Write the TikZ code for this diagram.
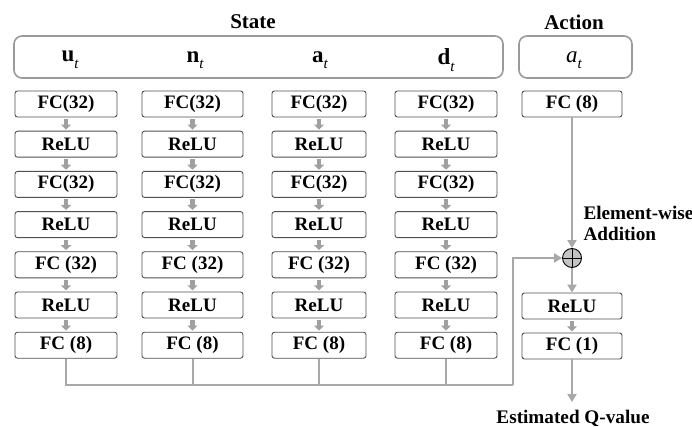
\documentclass[tikz,border=0pt]{standalone}
\usepackage{fontspec}
\setmainfont{Liberation Serif}
\usetikzlibrary{arrows.meta}
\definecolor{boxline}{HTML}{505050}
\definecolor{groupline}{HTML}{9A9A9A}
\definecolor{conn}{HTML}{A8A8A8}
\definecolor{flowgray}{HTML}{A0A0A0}
\definecolor{sumfill}{HTML}{C4C4C4}
% bold vector symbol with an italic subscript, set in text fonts
\newcommand{\vecsub}[1]{{\bfseries #1}\raisebox{-0.28em}{\fontsize{15}{15}\selectfont\itshape t}}
\newcommand{\scalsub}[1]{{\itshape #1}\raisebox{-0.28em}{\fontsize{15}{15}\selectfont\itshape t}}
\begin{document}
\begin{tikzpicture}[x=1pt,y=-1pt,
  layer/.style={draw=boxline, line width=0.9pt, rounded corners=2.5pt,
    minimum height=26pt, inner sep=0pt, fill=white,
    font=\bfseries\fontsize{19}{19}\selectfont},
  group/.style={draw=groupline, line width=1.6pt, rounded corners=8pt},
  heading/.style={font=\bfseries\fontsize{21}{21}\selectfont},
  inlabel/.style={font=\fontsize{23}{23}\selectfont},
  note/.style={font=\bfseries\fontsize{19.2}{21}\selectfont},
  flow/.style={draw=flowgray, line width=4.5pt,
    -{Triangle[length=5pt,width=10pt]}, shorten <=1.5pt, shorten >=1.2pt},
  link/.style={draw=conn, line width=2pt},
  linkarrow/.style={link, -{Triangle[length=8pt,width=9pt]}},
  sum/.style={circle, draw=black, line width=0.9pt, fill=sumfill,
    minimum size=19pt, inner sep=0pt}]
\useasboundingbox (0,0) rectangle (692,427);

% headings and input groups
\node[heading] (statehead) at (253,22) {State};
\node[heading] (actionhead) at (574,22) {Action};
\draw[group] (14,36) rectangle (503,78);
\draw[group] (519,36) rectangle (632,78);
\node[inlabel] (lu) at (70,60) {\vecsub{u}};
\node[inlabel] (ln) at (195,60) {\vecsub{n}};
\node[inlabel] (la) at (320,60) {\vecsub{a}};
\node[inlabel] (ld) at (446,60) {\vecsub{d}};
\node[inlabel] (lact) at (574,60) {\scalsub{a}};

% state branches: column index / centre x / box width
\foreach \c/\x/\w in {1/66/102, 2/192.5/101, 3/319/94, 4/446/102} {
  \foreach \r/\txt in {1/FC(32), 2/ReLU, 3/FC(32), 4/ReLU, 5/FC (32), 6/ReLU, 7/FC (8)} {
    \node[layer, minimum width=\w pt] (b\c-\r) at (\x,{104+40.2*(\r-1)}) {\txt};
  }
  \foreach \r [evaluate=\r as \n using int(\r+1)] in {1,...,6} {
    \draw[flow] (b\c-\r.south) -- (b\c-\n.north);
  }
}

% action branch and merged head
\node[layer, minimum width=100pt] (fa) at (572,104) {FC (8)};
\node[sum] (plus) at (572,258) {};
\draw[line width=0.9pt] (plus.north) -- (plus.south) (plus.west) -- (plus.east);
\node[layer, minimum width=100pt] (hrelu) at (572,306) {ReLU};
\node[layer, minimum width=100pt] (hfc) at (572,346) {FC (1)};
\node[note, anchor=west, align=left] (ewa) at (580,223) {Element-wise\\Addition};
\node[note] (qval) at (573,418) {Estimated Q-value};
\coordinate (bend) at (513,385);
\coordinate (qend) at (572,402);

% connectors
\draw[linkarrow] (fa.south) -- (plus.north);
\draw[link] (b1-7.south) |- (bend);
\foreach \c in {2,3,4} { \draw[link] (b\c-7.south) -- (b\c-7.south |- bend); }
\draw[linkarrow] (bend) |- (plus.west);
\draw[linkarrow] (plus.south) -- (hrelu.north);
\draw[flow] (hrelu.south) -- (hfc.north);
\draw[linkarrow] (hfc.south) -- (qend);
\end{tikzpicture}
\end{document}
